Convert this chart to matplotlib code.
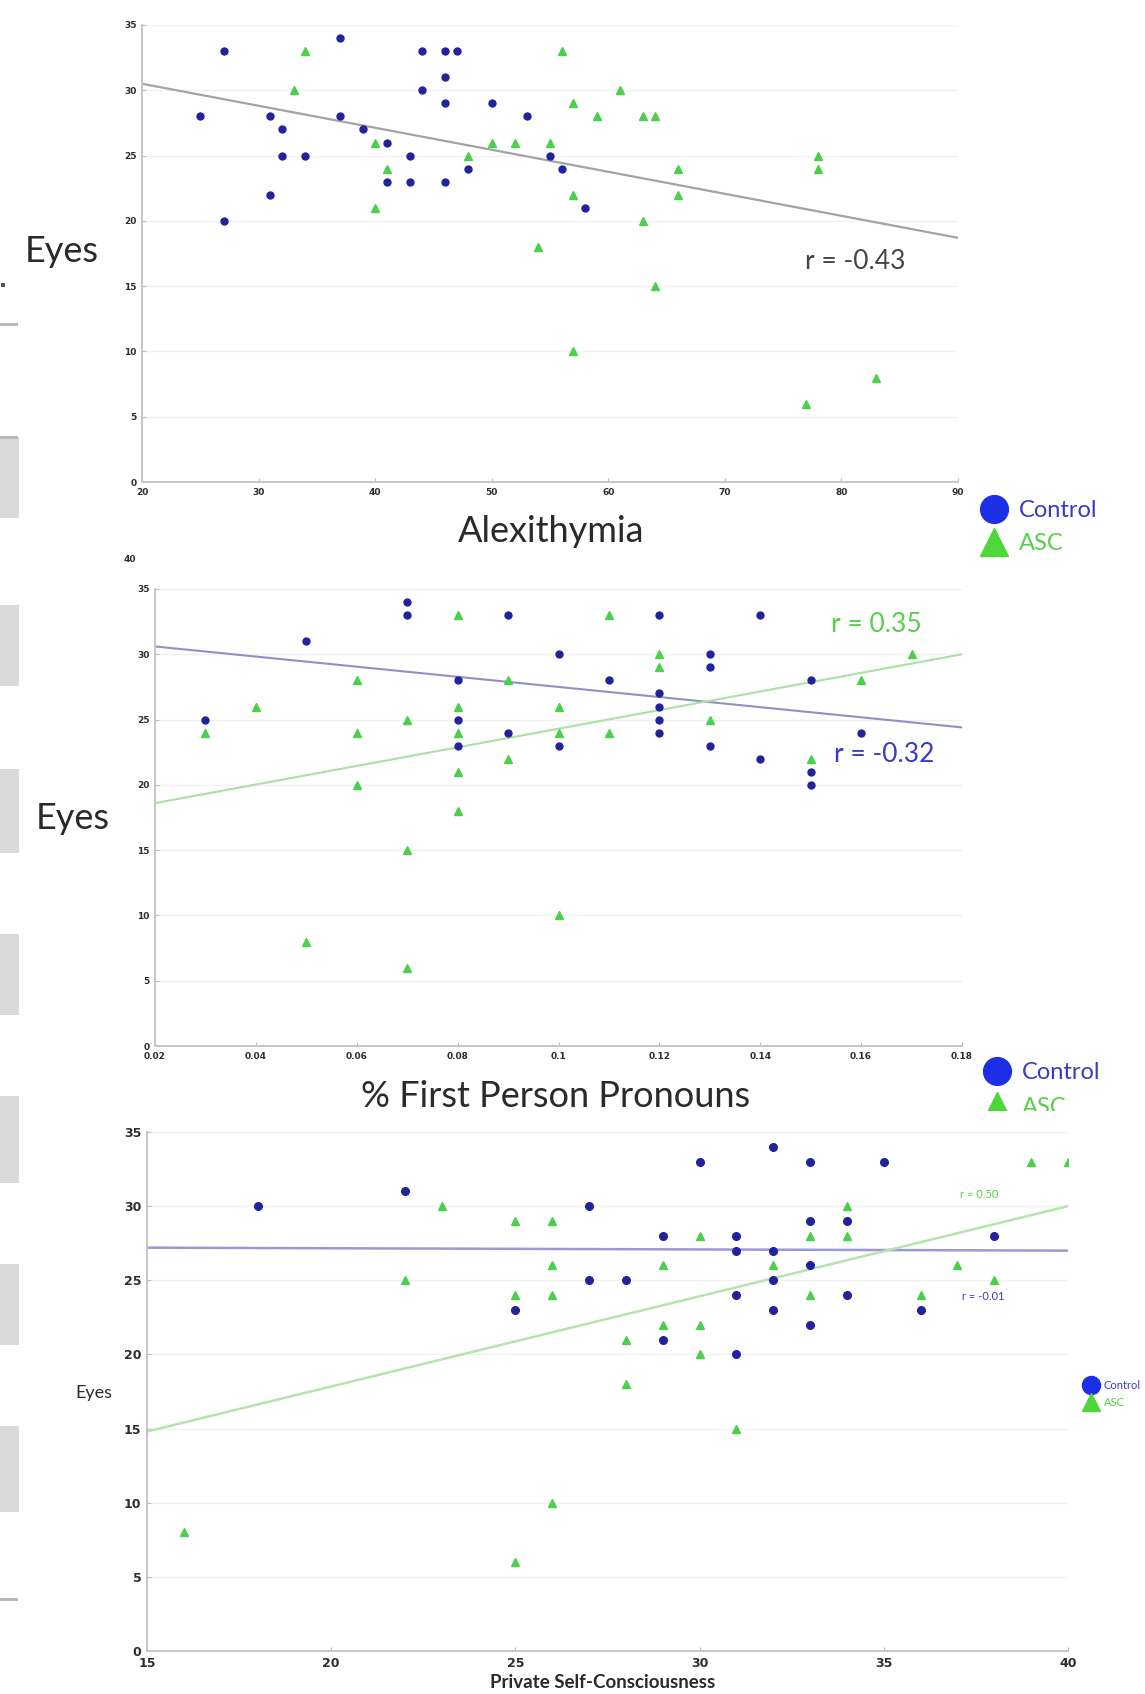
import numpy as np
import matplotlib.pyplot as plt
from matplotlib.lines import Line2D
from matplotlib.patches import Rectangle

# --- Eyes vs Alexithymia (both groups, one pooled fit) ---
alex_ctrl_x = [27, 37, 44, 46, 47, 46, 44, 46, 50, 25, 31, 37, 53, 32, 39, 41, 32, 34,
               43, 55, 48, 56, 41, 43, 46, 31, 58, 27]
alex_ctrl_y = [33, 34, 33, 33, 33, 31, 30, 29, 29, 28, 28, 28, 28, 27, 27, 26, 25, 25,
               25, 25, 24, 24, 23, 23, 23, 22, 21, 20]
alex_asc_x = [34, 56, 33, 61, 57, 59, 63, 64, 40, 50, 52, 55, 48, 78, 41, 66, 78, 57,
              66, 40, 63, 54, 64, 57, 83, 77]
alex_asc_y = [33, 33, 30, 30, 29, 28, 28, 28, 26, 26, 26, 26, 25, 25, 24, 24, 24, 22,
              22, 21, 20, 18, 15, 10, 8, 6]
alex_fit_x = [20, 90]
alex_fit_y = [30.5, 18.7]
alex_r = "r = -0.43"

# --- Eyes vs % first person pronouns ---
fpp_ctrl_x = [0.03, 0.05, 0.07, 0.07, 0.08, 0.08, 0.08, 0.09, 0.09, 0.10, 0.10, 0.11,
              0.12, 0.12, 0.12, 0.12, 0.12, 0.13, 0.13, 0.13, 0.14, 0.14, 0.15, 0.15,
              0.15, 0.16]
fpp_ctrl_y = [25, 31, 34, 33, 28, 25, 23, 33, 24, 30, 23, 28,
              33, 27, 26, 25, 24, 30, 29, 23, 33, 22, 28, 21,
              20, 24]
fpp_asc_x = [0.03, 0.04, 0.05, 0.06, 0.06, 0.06, 0.07, 0.07, 0.07, 0.08, 0.08, 0.08,
             0.08, 0.08, 0.09, 0.09, 0.10, 0.10, 0.10, 0.11, 0.11, 0.12, 0.12, 0.13,
             0.15, 0.16, 0.17]
fpp_asc_y = [24, 26, 8, 28, 24, 20, 25, 15, 6, 33, 26, 24,
             21, 18, 28, 22, 26, 24, 10, 33, 24, 30, 29, 25,
             22, 28, 30]
fpp_fit_x = [0.02, 0.18]
fpp_ctrl_fit = [30.6, 24.4]
fpp_asc_fit = [18.6, 30.0]
fpp_r_ctrl = "r = -0.32"
fpp_r_asc = "r = 0.35"

# --- Eyes vs private self-consciousness ---
psc_ctrl_x = [18, 22, 25, 27, 27, 28, 29, 29, 30, 31, 31, 31, 31, 32, 32, 32, 32,
              33, 33, 33, 33, 34, 34, 35, 36, 38]
psc_ctrl_y = [30, 31, 23, 30, 25, 25, 28, 21, 33, 28, 27, 24, 20, 34, 27, 25, 23,
              33, 29, 26, 22, 29, 24, 33, 23, 28]
psc_asc_x = [16, 22, 23, 25, 25, 25, 26, 26, 26, 26, 28, 28, 29, 29, 30, 30, 30, 31,
             32, 33, 33, 34, 34, 36, 37, 38, 39, 40]
psc_asc_y = [8, 25, 30, 29, 24, 6, 29, 26, 24, 10, 21, 18, 26, 22, 28, 22, 20, 15,
             26, 28, 24, 30, 28, 24, 26, 25, 33, 33]
psc_fit_x = [15, 40]
psc_ctrl_fit = [27.2, 27.0]
psc_asc_fit = [14.8, 30.0]
psc_r_ctrl = "r = -0.01"
psc_r_asc = "r = 0.50"

eyes_ticks = np.arange(0, 36, 5)

W, H = 1145, 1694
DOT_BLUE = '#22229a'
DOT_GREEN = '#4ccf4c'
LEG_BLUE = '#1c2fe6'
LEG_GREEN = '#4fd63a'
TXT_BLUE = '#3a3ac8'
TXT_GREEN = '#55d04a'
LABEL_FONT = ['Lato', 'DejaVu Sans']


def fx(px):
    return px / W


def fy(py):
    return 1 - py / H


def axes_at(fig, left, top, right, bottom):
    return fig.add_axes([fx(left), fy(bottom), (right - left) / W, (bottom - top) / H])


def style(ax, xlim, xticks, xlabels, tick_size):
    ax.set_xlim(*xlim)
    ax.set_ylim(0, 35)
    ax.set_yticks(eyes_ticks)
    ax.set_xticks(xticks)
    ax.set_xticklabels(xlabels)
    for s in ['top', 'right']:
        ax.spines[s].set_visible(False)
    for s in ['left', 'bottom']:
        ax.spines[s].set_color('#c6c6c6')
        ax.spines[s].set_linewidth(1.4)
    ax.tick_params(direction='in', length=3, width=0.8, color='#bdbdbd',
                   labelsize=tick_size, labelcolor='#2e2e2e', pad=4)
    for t in ax.get_xticklabels() + ax.get_yticklabels():
        t.set_fontweight('bold')
    ax.grid(axis='y', color='#f1f1f1', lw=1.0)
    ax.set_axisbelow(True)


def group_legend(ax, x, y, size, msize, spacing, pad, hlen):
    handles = [Line2D([], [], ls='', marker='o', ms=msize, color=LEG_BLUE, mec=LEG_BLUE),
               Line2D([], [], ls='', marker='^', ms=msize, color=LEG_GREEN, mec=LEG_GREEN)]
    return ax.legend(handles, ['Control', 'ASC'], loc='center left',
                     bbox_to_anchor=(fx(x), fy(y)), bbox_transform=fig.transFigure,
                     frameon=False, borderpad=0, borderaxespad=0,
                     handlelength=hlen, handletextpad=pad, labelspacing=spacing,
                     prop={'family': LABEL_FONT, 'size': size},
                     labelcolor=[TXT_BLUE, TXT_GREEN])


fig = plt.figure(figsize=(W / 100, H / 100), dpi=100)
fig.patch.set_facecolor('white')

# grey remains of the slide down the left edge
for top, bottom in [(437, 518), (605, 686), (769, 853), (934, 1015),
                    (1096, 1183), (1264, 1345), (1426, 1512)]:
    fig.add_artist(Rectangle((0, fy(bottom)), fx(19), (bottom - top) / H,
                             transform=fig.transFigure, color='#dadada', lw=0))
for py in [324, 437, 1599]:
    fig.add_artist(Rectangle((0, fy(py + 2)), fx(18), 3 / H,
                             transform=fig.transFigure, color='#b8b8b8', lw=0))
fig.add_artist(Rectangle((fx(1), fy(287)), fx(4), 4 / H,
                         transform=fig.transFigure, color='#555555', lw=0))

# ---------- top: Alexithymia ----------
ax1 = axes_at(fig, 142, 25, 958, 482)
ax1.plot(alex_fit_x, alex_fit_y, color='#a3a3a3', lw=1.6, zorder=2)
ax1.plot(alex_ctrl_x, alex_ctrl_y, ls='', marker='o', ms=5, color=DOT_BLUE, zorder=3)
ax1.plot(alex_asc_x, alex_asc_y, ls='', marker='^', ms=5.5, color=DOT_GREEN, zorder=3)
style(ax1, (20, 90), np.arange(20, 91, 10), [str(v) for v in range(20, 91, 10)], 6.5)
ax1.text(81.2, 16.9, alex_r, ha='center', va='center', fontsize=19,
         color='#444444', family=LABEL_FONT)
fig.text(fx(62), fy(251), 'Eyes', ha='center', va='center', fontsize=26,
         color='#2a2a2a', family=LABEL_FONT)
fig.text(fx(551), fy(531), 'Alexithymia', ha='center', va='center', fontsize=26,
         color='#2a2a2a', family=LABEL_FONT)
group_legend(ax1, 982, 527, 17, 20, 0.5, 0.55, 1.0)

# ---------- middle: % first person pronouns ----------
ax2 = axes_at(fig, 155, 589, 962, 1046)
ax2.plot(fpp_fit_x, fpp_ctrl_fit, color='#8f8fcc', lw=1.5, zorder=2)
ax2.plot(fpp_fit_x, fpp_asc_fit, color='#a9e2a3', lw=1.5, zorder=2)
ax2.plot(fpp_ctrl_x, fpp_ctrl_y, ls='', marker='o', ms=5, color=DOT_BLUE, zorder=3)
ax2.plot(fpp_asc_x, fpp_asc_y, ls='', marker='^', ms=5.5, color=DOT_GREEN, zorder=3)
fpp_ticks = np.round(np.arange(0.02, 0.181, 0.02), 2)
style(ax2, (0.02, 0.18), fpp_ticks, ['%g' % v for v in fpp_ticks], 6.5)
ax2.text(0.163, 32.3, fpp_r_asc, ha='center', va='center', fontsize=19,
         color=TXT_GREEN, family=LABEL_FONT)
ax2.text(0.1645, 22.3, fpp_r_ctrl, ha='center', va='center', fontsize=19,
         color=TXT_BLUE, family=LABEL_FONT)
fig.text(fx(130), fy(560), '40', ha='center', va='center', fontsize=6.5,
         fontweight='bold', color='#2e2e2e')
fig.text(fx(73), fy(818), 'Eyes', ha='center', va='center', fontsize=26,
         color='#2a2a2a', family=LABEL_FONT)
fig.text(fx(556), fy(1096), '% First Person Pronouns', ha='center', va='center',
         fontsize=26, color='#2a2a2a', family=LABEL_FONT)
group_legend(ax2, 985, 1090, 17, 20, 0.6, 0.55, 1.0)

# the lower chart's white backing cuts off the legend above it
fig.add_artist(Rectangle((fx(900), fy(1131)), fx(245), 20 / H,
                         transform=fig.transFigure, color='white', lw=0, zorder=1))

# ---------- bottom: private self-consciousness ----------
ax3 = axes_at(fig, 147, 1132, 1068, 1651)
ax3.set_zorder(2)
ax3.patch.set_alpha(0)
ax3.plot(psc_fit_x, psc_ctrl_fit, color='#9a9ad0', lw=1.8, zorder=2)
ax3.plot(psc_fit_x, psc_asc_fit, color='#b6e4ad', lw=1.8, zorder=2)
ax3.plot(psc_ctrl_x, psc_ctrl_y, ls='', marker='o', ms=5.5, color=DOT_BLUE, zorder=3)
ax3.plot(psc_asc_x, psc_asc_y, ls='', marker='^', ms=6, color=DOT_GREEN, zorder=3)
style(ax3, (15, 40), np.arange(15, 41, 5), [str(v) for v in range(15, 41, 5)], 9)
ax3.text(37.6, 30.8, psc_r_asc, ha='center', va='center', fontsize=8,
         color=TXT_GREEN, family=LABEL_FONT)
ax3.text(37.7, 23.9, psc_r_ctrl, ha='center', va='center', fontsize=8,
         color=TXT_BLUE, family=LABEL_FONT)
fig.text(fx(94), fy(1393), 'Eyes', ha='center', va='center', fontsize=13,
         color='#2a2a2a', family=LABEL_FONT)
fig.text(fx(603), fy(1682), 'Private Self-Consciousness', ha='center', va='center',
         fontsize=13.5, fontweight='bold', color='#2a2a2a', family=LABEL_FONT)
group_legend(ax3, 1085, 1394, 8, 13, 0.55, 0.6, 1.1)

fig.savefig('out.png', dpi=100)
